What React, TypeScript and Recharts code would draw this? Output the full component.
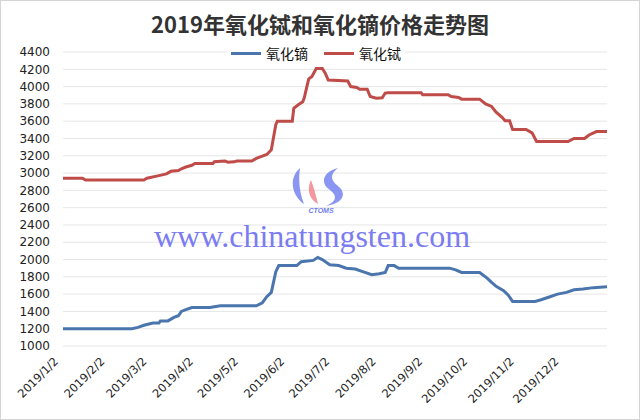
import { LineChart, Line, XAxis, YAxis, CartesianGrid } from 'recharts';

const title = '2019年氧化铽和氧化镝价格走势图';

const tickDates = [
  '2019/1/2', '2019/2/2', '2019/3/2', '2019/4/2', '2019/5/2', '2019/6/2',
  '2019/7/2', '2019/8/2', '2019/9/2', '2019/10/2', '2019/11/2', '2019/12/2',
];

const yTicks = [1000, 1200, 1400, 1600, 1800, 2000, 2200, 2400, 2600, 2800, 3000, 3200, 3400, 3600, 3800, 4000, 4200, 4400];

// 氧化铽
const terbiumDates = [
  '2019/1/2', '2019/1/15', '2019/1/17', '2019/2/25', '2019/2/27', '2019/3/7', '2019/3/12', '2019/3/15',
  '2019/3/20', '2019/3/22', '2019/3/25', '2019/3/29', '2019/3/31', '2019/4/12', '2019/4/13', '2019/4/20',
  '2019/4/22', '2019/4/26', '2019/4/28', '2019/5/8', '2019/5/11', '2019/5/15', '2019/5/18', '2019/5/21',
  '2019/5/24', '2019/5/25', '2019/6/4', '2019/6/5', '2019/6/8', '2019/6/11', '2019/6/12', '2019/6/14',
  '2019/6/15', '2019/6/17', '2019/6/20', '2019/6/24', '2019/6/26', '2019/6/28', '2019/7/11', '2019/7/13',
  '2019/7/17', '2019/7/19', '2019/7/24', '2019/7/26', '2019/7/30', '2019/8/3', '2019/8/5', '2019/8/7',
  '2019/8/29', '2019/8/30', '2019/9/16', '2019/9/18', '2019/9/23', '2019/9/25', '2019/10/7', '2019/10/11',
  '2019/10/15', '2019/10/18', '2019/10/22', '2019/10/24', '2019/10/27', '2019/10/29', '2019/11/7', '2019/11/11',
  '2019/11/14', '2019/12/5', '2019/12/9', '2019/12/16', '2019/12/19', '2019/12/24', '2019/12/31',
];
const terbiumValues = [
  2940, 2940, 2920, 2920, 2940, 2970, 2990, 3020,
  3030, 3050, 3070, 3090, 3110, 3110, 3130, 3140,
  3125, 3130, 3140, 3140, 3170, 3195, 3215, 3270,
  3560, 3600, 3600, 3750, 3790, 3825, 3870, 4020,
  4090, 4115, 4210, 4210, 4155, 4075, 4065, 4000,
  3990, 3970, 3970, 3885, 3865, 3870, 3925, 3930,
  3930, 3905, 3905, 3885, 3875, 3855, 3855, 3800,
  3770, 3705, 3645, 3605, 3605, 3505, 3505, 3465,
  3365, 3365, 3400, 3400, 3440, 3480, 3480,
];

// 氧化镝
const dysprosiumDates = [
  '2019/1/2', '2019/2/17', '2019/2/21', '2019/2/25', '2019/3/3', '2019/3/7', '2019/3/8', '2019/3/13',
  '2019/3/17', '2019/3/20', '2019/3/22', '2019/3/25', '2019/3/29', '2019/4/10', '2019/4/13', '2019/4/17',
  '2019/5/11', '2019/5/15', '2019/5/18', '2019/5/21', '2019/5/24', '2019/5/26', '2019/6/7', '2019/6/10',
  '2019/6/18', '2019/6/21', '2019/6/24', '2019/6/29', '2019/7/5', '2019/7/10', '2019/7/16', '2019/7/21',
  '2019/7/27', '2019/8/1', '2019/8/5', '2019/8/7', '2019/8/11', '2019/8/14', '2019/9/17', '2019/9/21',
  '2019/9/25', '2019/10/7', '2019/10/12', '2019/10/15', '2019/10/18', '2019/10/23', '2019/10/26', '2019/10/29',
  '2019/11/13', '2019/11/17', '2019/11/23', '2019/11/28', '2019/12/4', '2019/12/9', '2019/12/15', '2019/12/22',
  '2019/12/31',
];
const dysprosiumValues = [
  1200, 1200, 1215, 1240, 1265, 1265, 1290, 1290,
  1330, 1350, 1400, 1420, 1445, 1445, 1455, 1465,
  1465, 1500, 1570, 1620, 1860, 1930, 1930, 1975,
  1990, 2025, 2000, 1940, 1930, 1900, 1890, 1860,
  1825, 1835, 1850, 1930, 1930, 1900, 1900, 1880,
  1850, 1850, 1785, 1735, 1690, 1640, 1590, 1515,
  1515, 1535, 1570, 1600, 1620, 1650, 1660, 1675,
  1685,
];

const BLUE = '#4a76ad';
const RED = '#bf4c48';

const START = Date.UTC(2019, 0, 2);
function toDay(s: string) {
  const [y, m, d] = s.split('/').map(Number);
  return (Date.UTC(y, m - 1, d) - START) / 86400000;
}

const terbiumData = terbiumDates.map((d, i) => ({ day: toDay(d), value: terbiumValues[i] }));
const dysprosiumData = dysprosiumDates.map((d, i) => ({ day: toDay(d), value: dysprosiumValues[i] }));
const xTicks = tickDates.map(toDay);
const labelFor = (day: number) => tickDates[xTicks.indexOf(day)] ?? '';

const font = '"DejaVu Sans", sans-serif';

function XTick({ x, y, payload }: any) {
  return (
    <text
      transform={`translate(${x - 4},${y + 8}) rotate(-45)`}
      textAnchor="end"
      fontSize={11.5}
      fontFamily={font}
      fill="#222"
    >
      {labelFor(payload.value)}
    </text>
  );
}

const legendItems = [
  { name: '氧化镝', color: BLUE },
  { name: '氧化铽', color: RED },
];

export default function App() {
  return (
    <div
      style={{
        position: 'absolute',
        left: 0,
        top: 0,
        width: 640,
        height: 420,
        background: '#fff',
        border: '1px solid #d4d4d4',
        boxSizing: 'border-box',
      }}
    >
      <div
        style={{
          position: 'absolute',
          top: 8,
          left: 0,
          width: 638,
          textAlign: 'center',
          fontSize: 22,
          fontWeight: 700,
          color: '#333',
          fontFamily: '"Noto Sans CJK SC", sans-serif',
          lineHeight: '28px',
        }}
      >
        {title}
      </div>
      <LineChart
        width={640}
        height={420}
        margin={{ top: 52, right: 33, bottom: 0, left: 0 }}
        style={{ position: 'absolute', left: -1, top: -1 }}
      >
        <CartesianGrid vertical={false} stroke="#e6e6e6" />
        <XAxis
          type="number"
          dataKey="day"
          domain={[0, 363]}
          ticks={xTicks}
          interval={0}
          axisLine={false}
          tickLine={false}
          height={74}
          tick={<XTick />}
        />
        <YAxis
          domain={[1000, 4400]}
          ticks={yTicks}
          interval={0}
          width={63}
          axisLine={false}
          tickLine={false}
          tickMargin={7}
          tick={{ fontSize: 12, fontFamily: font, fill: '#222' }}
        />
        <Line data={dysprosiumData} dataKey="value" name="氧化镝" stroke={BLUE} strokeWidth={3} dot={false} isAnimationActive={false} />
        <Line data={terbiumData} dataKey="value" name="氧化铽" stroke={RED} strokeWidth={3} dot={false} isAnimationActive={false} />
      </LineChart>
      <div
        style={{
          position: 'absolute',
          top: 41,
          left: 226,
          display: 'flex',
          alignItems: 'center',
          background: '#fff',
          padding: '0 4px',
          height: 22,
        }}
      >
        {legendItems.map((it, i) => (
          <div key={it.name} style={{ display: 'flex', alignItems: 'center', marginLeft: i ? 16 : 0 }}>
            <span style={{ display: 'inline-block', width: 30, height: 3, background: it.color, marginRight: 5 }} />
            <span style={{ fontSize: 14, fontFamily: '"Noto Sans CJK SC", sans-serif', color: '#111', lineHeight: '20px' }}>
              {it.name}
            </span>
          </div>
        ))}
      </div>
      <svg width={640} height={420} style={{ position: 'absolute', left: -1, top: -1, pointerEvents: 'none' }}>
        <g opacity={0.8}>
          <path d="M300 168 C288 178 292 196 304 204 C300 194 298 182 300 168 Z" fill="#6f7df0" />
          <path d="M311 180 C306 190 310 200 318 204 C316 196 314 188 311 180 Z" fill="#f07f86" />
          <path d="M338 168 C322 172 320 184 330 190 C338 196 336 202 326 206 C342 204 348 194 338 186 C330 180 330 174 338 168 Z" fill="#6f7df0" />
        </g>
        <text x={321} y={213} textAnchor="middle" fontSize={7} fontWeight={700} fontStyle="italic" fill="#6f7df0" fontFamily='"Liberation Sans", sans-serif'>
          CTOMS
        </text>
        <text x={312} y={247} textAnchor="middle" fontSize={32} fill="#7b7cf2" fontFamily='"Liberation Serif", serif'>
          www.chinatungsten.com
        </text>
      </svg>
    </div>
  );
}
